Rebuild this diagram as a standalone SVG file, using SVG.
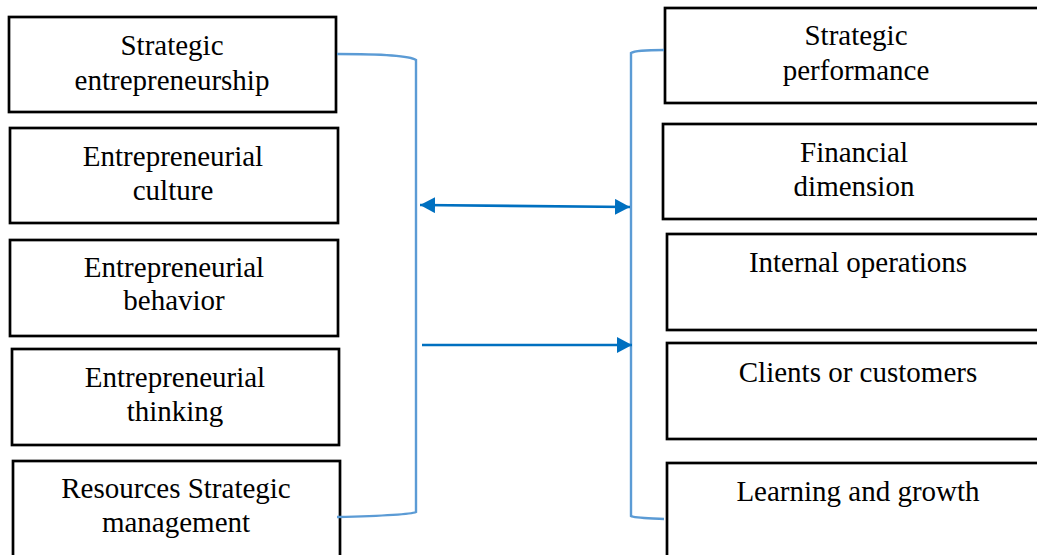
<svg xmlns="http://www.w3.org/2000/svg" width="1037" height="555" viewBox="0 0 1037 555">
  <style>
    .box { fill: #ffffff; stroke: #000000; stroke-width: 2.7; }
    .lbl { font-family: "Liberation Serif", "Times New Roman", serif; font-size: 29px; fill: #000000; text-anchor: middle; }
    .brk { fill: none; stroke: #5B9BD5; stroke-width: 2.4; }
    .arr { fill: none; stroke: #0070C0; stroke-width: 2.6; }
  </style>
  <defs>
    <marker id="ah" markerUnits="userSpaceOnUse" markerWidth="16" markerHeight="16" refX="15" refY="8" orient="auto-start-reverse" viewBox="0 0 16 16">
      <path d="M0,0 L15,8 L0,16 Z" fill="#0070C0"/>
    </marker>
  </defs>
  <rect width="1037" height="555" fill="#ffffff"/>

  <g id="n-strategic-entrepreneurship">
    <rect class="box" x="9" y="17" width="327" height="95"/>
    <text class="lbl" x="172" y="55">Strategic</text>
    <text class="lbl" x="172" y="90">entrepreneurship</text>
  </g>
  <g id="n-entrepreneurial-culture">
    <rect class="box" x="10" y="128" width="328" height="95"/>
    <text class="lbl" x="173" y="166">Entrepreneurial</text>
    <text class="lbl" x="173" y="200">culture</text>
  </g>
  <g id="n-entrepreneurial-behavior">
    <rect class="box" x="10" y="240" width="328" height="96"/>
    <text class="lbl" x="174" y="277">Entrepreneurial</text>
    <text class="lbl" x="174" y="310">behavior</text>
  </g>
  <g id="n-entrepreneurial-thinking">
    <rect class="box" x="12" y="349" width="327" height="96"/>
    <text class="lbl" x="175" y="387">Entrepreneurial</text>
    <text class="lbl" x="175" y="421">thinking</text>
  </g>
  <g id="n-resources-strategic-management">
    <rect class="box" x="13" y="461" width="327" height="100"/>
    <text class="lbl" x="176" y="498">Resources Strategic</text>
    <text class="lbl" x="176" y="532">management</text>
  </g>

  <g id="n-strategic-performance">
    <rect class="box" x="665" y="8" width="374" height="95"/>
    <text class="lbl" x="856" y="45">Strategic</text>
    <text class="lbl" x="856" y="80">performance</text>
  </g>
  <g id="n-financial-dimension">
    <rect class="box" x="663" y="124" width="376" height="95"/>
    <text class="lbl" x="854" y="162">Financial</text>
    <text class="lbl" x="854" y="196">dimension</text>
  </g>
  <g id="n-internal-operations">
    <rect class="box" x="667" y="234" width="372" height="96"/>
    <text class="lbl" x="858" y="272">Internal operations</text>
  </g>
  <g id="n-clients-or-customers">
    <rect class="box" x="667" y="343" width="372" height="96"/>
    <text class="lbl" x="858" y="382">Clients or customers</text>
  </g>
  <g id="n-learning-and-growth">
    <rect class="box" x="667" y="463" width="372" height="100"/>
    <text class="lbl" x="858" y="501">Learning and growth</text>
  </g>

  <g id="connectors">
    <path class="brk" d="M337,54 C380,54 410,56 416,60 L416,512 C410,515 380,516 337,517"/>
    <path class="brk" d="M664,50 C645,50 634,51 631,53 L631,516 C634,518 645,518 664,519"/>
    <line class="arr" x1="420" y1="205" x2="630" y2="207" marker-start="url(#ah)" marker-end="url(#ah)"/>
    <line class="arr" x1="422" y1="345" x2="632" y2="345" marker-end="url(#ah)"/>
  </g>
</svg>
